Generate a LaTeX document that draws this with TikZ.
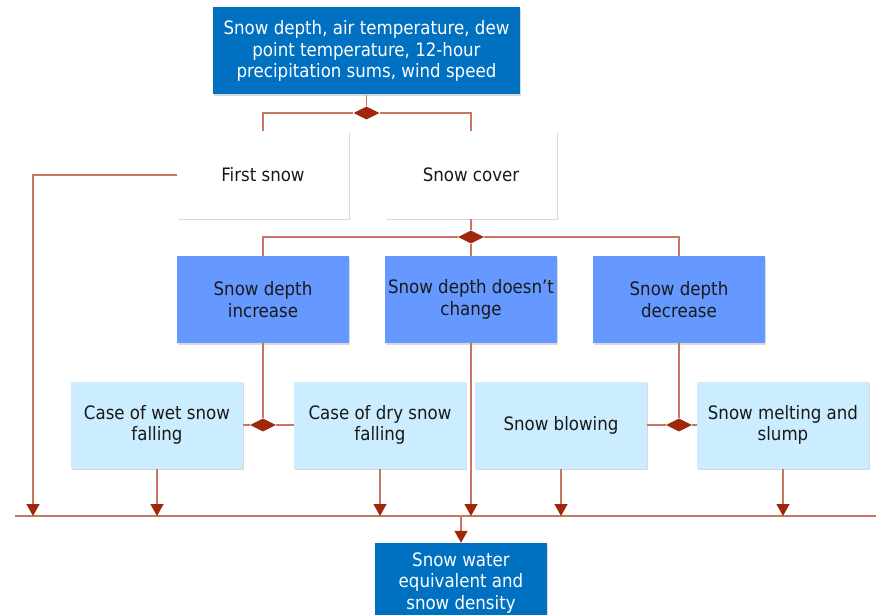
\documentclass[tikz,border=0pt]{standalone}
\usepackage{fontspec}
\setmainfont{DejaVu Sans Condensed}
\usetikzlibrary{shapes.geometric,arrows.meta,shadows}
\definecolor{darkbox}{RGB}{0,112,192}
\definecolor{midbox}{RGB}{102,153,255}
\definecolor{lightbox}{RGB}{204,236,255}
\definecolor{linkcol}{RGB}{200,118,98}
\definecolor{tipcol}{RGB}{160,40,10}
\tikzset{
  box/.style={rectangle, minimum width=172pt, minimum height=87pt, inner sep=2pt,
    align=center, text=black!90, font=\fontsize{18.5}{21.5}\selectfont,
    drop shadow={shadow xshift=0.8pt, shadow yshift=-1.6pt, fill=black, opacity=0.15}},
  topbox/.style={box, fill=darkbox, text=white},
  whitebox/.style={box, fill=white},
  midbox/.style={box, fill=midbox},
  lightbox/.style={box, fill=lightbox},
  junction/.style={diamond, aspect=2, minimum width=26pt, minimum height=13pt,
    inner sep=0pt, fill=tipcol},
  link/.style={draw=linkcol, line width=1.3pt},
  flow/.style={link, -{Triangle[length=12pt,width=13pt,fill=tipcol,color=tipcol]}}
}
\begin{document}
\begin{tikzpicture}[x=1pt, y=-1pt]
\useasboundingbox (0,0) rectangle (876,615);
\clip (0,0) rectangle (876,615);
% boxes
\node[topbox, minimum width=307pt] (input) at (366.5,51) {Snow depth, air temperature, dew\\point temperature, 12-hour\\precipitation sums, wind speed};
\node[whitebox] (first) at (263,175) {First snow};
\node[whitebox] (cover) at (471,175) {Snow cover};
\node[midbox] (inc) at (263,299.5) {Snow depth\\increase};
\node[midbox] (same) at (471,299.5) {Snow depth doesn’t\\change};
\node[midbox] (dec) at (679,299.5) {Snow depth\\decrease};
\node[lightbox] (wet) at (157,425) {Case of wet snow\\falling};
\node[lightbox] (dry) at (380,425) {Case of dry snow\\falling};
\node[lightbox] (blow) at (561,425) {Snow blowing};
\node[lightbox] (melt) at (783,425) {Snow melting and\\slump};
\node[topbox, minimum height=80pt] (swe) at (461,583) {Snow water\\equivalent and\\snow density};
% junctions
\node[junction] (j1) at (366.5,113) {};
\node[junction] (j2) at (471,237) {};
\node[junction] (j3) at (263,425) {};
\node[junction] (j4) at (679,425) {};
% collecting line
\coordinate (busL) at (15,516);
\coordinate (busR) at (876,516);
\coordinate (fs) at (33,516);
\draw[link] (busL) -- (busR);
% connectors
\draw[link] (input) -- (j1);
\draw[link] (j1) -| (first);
\draw[link] (j1) -| (cover);
\draw[flow] (first) -| (fs);
\draw[link] (cover) -- (j2);
\draw[link] (j2) -| (inc);
\draw[link] (j2) -| (dec);
\draw[link] (j2) -- (same);
\draw[link] (inc) -- (j3);
\draw[link] (j3) -- (wet);
\draw[link] (j3) -- (dry);
\draw[link] (dec) -- (j4);
\draw[link] (j4) -- (blow);
\draw[link] (j4) -- (melt);
\draw[flow] (same) -- (same |- busL);
\draw[flow] (wet) -- (wet |- busL);
\draw[flow] (dry) -- (dry |- busL);
\draw[flow] (blow) -- (blow |- busL);
\draw[flow] (melt) -- (melt |- busL);
\draw[flow] (swe |- busL) -- (swe);
\end{tikzpicture}
\end{document}
